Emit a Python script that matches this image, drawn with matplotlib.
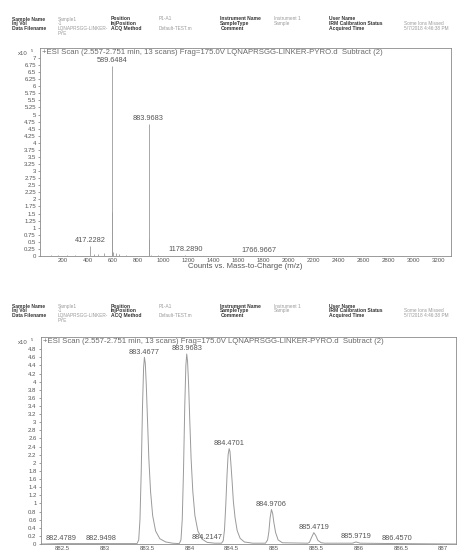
"""Two Agilent-style ESI mass spectra (full scan + zoom on the 883.97 cluster)."""
import matplotlib.pyplot as plt
from matplotlib.ticker import FormatStrFormatter

plt.rcParams["font.family"] = ["Liberation Sans", "DejaVu Sans"]

TITLE = "+ESI Scan (2.557-2.751 min, 13 scans) Frag=175.0V LQNAPRSGG-LINKER-PYRO.d  Subtract (2)"
XLABEL = "Counts vs. Mass-to-Charge (m/z)"

# header block (label, value) in four columns
hdr_col1 = [("Sample Name", "Sample1"), ("Inj Vol", "-1"), ("Data Filename", "LQNAPRSGG-LINKER-\nPYE")]
hdr_col2 = [("Position", "P1-A1"), ("InjPosition", ""), ("ACQ Method", "Default-TEST.m")]
hdr_col3 = [("Instrument Name", "Instrument 1"), ("SampleType", "Sample"), ("Comment", "")]
hdr_col4 = [("User Name", ""), ("IRM Calibration Status", "Some Ions Missed"),
            ("Acquired Time", "5/7/2018 4:46:38 PM")]

# full scan, centroid sticks (counts x1e5)
stick_mz = [105, 160, 230, 300, 417.2282, 450, 480, 530, 589.6484, 590.0, 590.3, 593,
            600, 620, 650, 700, 883.9683, 884.47, 884.97, 885.5, 900, 960, 1178.289, 1766.9667]
stick_int = [0.03, 0.02, 0.03, 0.02, 0.35, 0.08, 0.06, 0.1, 6.72, 1.55, 0.6, 0.3,
             0.15, 0.1, 0.06, 0.04, 4.66, 0.6, 0.2, 0.08, 0.05, 0.03, 0.05, 0.01]
top_labels = [(417.2282, 0.35), (589.6484, 6.72), (883.9683, 4.66), (1178.289, 0.05), (1766.9667, 0.01)]
top_xticks = [200, 400, 600, 800, 1000, 1200, 1400, 1600, 1800, 2000, 2200, 2400, 2600, 2800, 3000, 3200]
top_yticks = [0, 0.25, 0.5, 0.75, 1, 1.25, 1.5, 1.75, 2, 2.25, 2.5, 2.75, 3, 3.25, 3.5, 3.75,
              4, 4.25, 4.5, 4.75, 5, 5.25, 5.5, 5.75, 6, 6.25, 6.5, 6.75, 7]

# zoomed profile around m/z 883-886 (counts x1e5)
prof_mz = [882.24, 882.48, 882.95, 883.38,
           883.40, 883.415, 883.43, 883.445, 883.458, 883.4677, 883.478, 883.49, 883.505, 883.52,
           883.54, 883.565, 883.60, 883.65, 883.72, 883.80, 883.88,
           883.90, 883.915, 883.93, 883.945, 883.958, 883.9683, 883.978, 883.99, 884.005, 884.02,
           884.04, 884.065, 884.10, 884.15, 884.21, 884.30, 884.38,
           884.40, 884.415, 884.43, 884.445, 884.458, 884.4701, 884.48, 884.49, 884.505, 884.52,
           884.54, 884.565, 884.60, 884.65, 884.75, 884.90,
           884.925, 884.94, 884.955, 884.9706, 884.985, 885.00, 885.02, 885.05, 885.10, 885.40,
           885.42, 885.445, 885.4719, 885.495, 885.52, 885.56, 885.60,
           885.93, 885.955, 885.9719, 885.99, 886.02, 886.457, 887.15]
prof_int = [0.0, 0.01, 0.01, 0.01,
            0.1, 0.6, 1.8, 3.4, 4.35, 4.60, 4.45, 3.9, 3.0, 2.1,
            1.3, 0.7, 0.32, 0.13, 0.05, 0.02, 0.01,
            0.1, 0.6, 1.8, 3.4, 4.4, 4.68, 4.5, 3.95, 3.0, 2.1,
            1.3, 0.7, 0.32, 0.12, 0.04, 0.02, 0.02,
            0.08, 0.35, 0.95, 1.7, 2.2, 2.35, 2.28, 2.0, 1.55, 1.05,
            0.65, 0.33, 0.14, 0.05, 0.02, 0.02,
            0.1, 0.3, 0.65, 0.85, 0.75, 0.52, 0.28, 0.1, 0.03, 0.02,
            0.04, 0.16, 0.28, 0.21, 0.09, 0.03, 0.02,
            0.02, 0.04, 0.05, 0.04, 0.02, 0.01, 0.0]
bot_labels = [(882.4789, 0.01), (882.9498, 0.01), (883.4677, 4.60), (883.9683, 4.68),
              (884.2147, 0.03), (884.4701, 2.35), (884.9706, 0.85), (885.4719, 0.28),
              (885.9719, 0.05), (886.4570, 0.01)]
bot_xticks = [882.5, 883, 883.5, 884, 884.5, 885, 885.5, 886, 886.5, 887]
bot_yticks = [0, 0.2, 0.4, 0.6, 0.8, 1, 1.2, 1.4, 1.6, 1.8, 2, 2.2, 2.4, 2.6, 2.8, 3,
              3.2, 3.4, 3.6, 3.8, 4, 4.2, 4.4, 4.6, 4.8]

LINE = "#9a9a9a"
FRAME = "#8a8a8a"
TXT = "#555555"
FS = 4.3
LFS = 5.3


def header(fig, ytop):
    cols = [(hdr_col1, 0.026, 0.127), (hdr_col2, 0.243, 0.348),
            (hdr_col3, 0.482, 0.6), (hdr_col4, 0.72, 0.884)]
    for rows, xl, xv in cols:
        for i, (lab, val) in enumerate(rows):
            y = ytop - i * 0.0085
            fig.text(xl, y, lab, fontsize=3.6, weight="bold", color="#333333", va="top")
            if val:
                fig.text(xv, y, val, fontsize=3.4, color="#9a9a9a", va="top", linespacing=1.1)


def style(ax, xticks, yticks):
    for s in ax.spines.values():
        s.set_color(FRAME)
        s.set_linewidth(0.6)
    ax.set_xticks(xticks)
    ax.set_yticks(yticks)
    ax.yaxis.set_major_formatter(FormatStrFormatter("%g"))
    ax.xaxis.set_major_formatter(FormatStrFormatter("%g"))
    ax.tick_params(labelsize=FS, colors=TXT, length=1.5, width=0.4, pad=1.5)
    ax.tick_params(axis="x", length=0)
    ax.text(0.006, 0.995, TITLE, transform=ax.transAxes, fontsize=5.6,
            color="#6a6a6a", va="top", ha="left")
    ax.annotate("x10", (0, 0.975), xycoords="axes fraction", textcoords="offset points",
                xytext=(-9, 0), ha="right", va="center", fontsize=FS, color=TXT)
    ax.annotate("5", (0, 0.985), xycoords="axes fraction", textcoords="offset points",
                xytext=(-6, 0), ha="center", va="center", fontsize=FS - 1.3, color=TXT)


fig = plt.figure(figsize=(4.57, 5.5), dpi=100)
header(fig, 0.97)
header(fig, 0.448)

ax1 = fig.add_axes([0.0875, 0.5345, 0.8995, 0.3782])
ax1.vlines(stick_mz, 0, stick_int, color=LINE, linewidth=0.6)
ax1.set_xlim(16, 3304)
ax1.set_ylim(0, 7.35)
style(ax1, top_xticks, top_yticks)
for mz, h in top_labels:
    ax1.annotate(f"{mz:.4f}", (mz, h), textcoords="offset points", xytext=(0, 1.5),
                 ha="center", va="bottom", fontsize=LFS, color=TXT)
ax1.set_xlabel(XLABEL, fontsize=5.6, color=TXT, labelpad=0)

ax2 = fig.add_axes([0.089, 0.0109, 0.908, 0.3764])
ax2.plot(prof_mz, prof_int, color=LINE, linewidth=0.7)
ax2.set_xlim(882.24, 887.15)
ax2.set_ylim(0, 5.1)
style(ax2, bot_xticks, bot_yticks)
for mz, h in bot_labels:
    ax2.annotate(f"{mz:.4f}", (mz, h), textcoords="offset points", xytext=(0, 1.2),
                 ha="center", va="bottom", fontsize=LFS, color=TXT)

fig.savefig("out.png", dpi=100, facecolor="white")
